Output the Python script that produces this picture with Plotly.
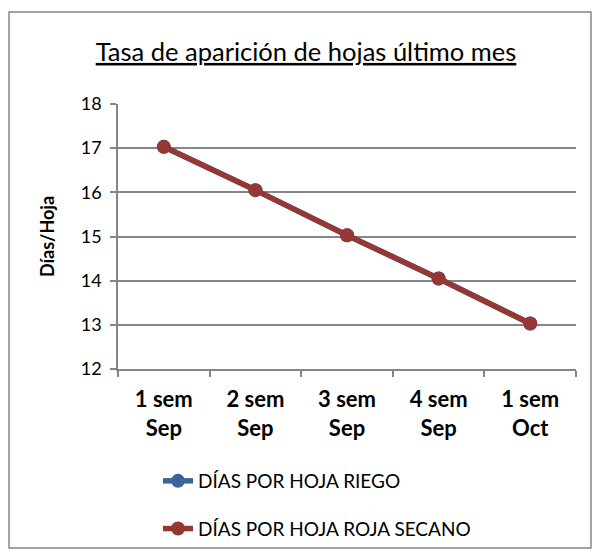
import plotly.graph_objects as go

categories = ["1 sem<br>Sep", "2 sem<br>Sep", "3 sem<br>Sep", "4 sem<br>Sep", "1 sem<br>Oct"]
riego = [17.03, 16.05, 15.03, 14.05, 13.03]
secano = [17.03, 16.05, 15.03, 14.05, 13.03]
series_names = ["DÍAS POR HOJA RIEGO", "DÍAS POR HOJA ROJA SECANO"]
y_ticks = [12, 13, 14, 15, 16, 17, 18]

FONT = "Lato, Calibri, sans-serif"
GRID = "#868686"

fig = go.Figure()
fig.add_trace(go.Scatter(x=categories, y=riego, mode="lines+markers", name=series_names[0],
                         legendgroup="a",
                         line=dict(color="#3A659C", width=5.5),
                         marker=dict(size=14, color="#3A659C")))
fig.add_trace(go.Scatter(x=categories, y=secano, mode="lines+markers", name=series_names[1],
                         legendgroup="b",
                         line=dict(color="#953735", width=5.5),
                         marker=dict(size=14, color="#953735")))

L, R, T, B = 118, 24, 104, 187
W, H = 600, 556
pw, ph = W - L - R, H - T - B

def px(x):
    return (x - L) / pw

def py(y):
    return (H - B - y) / ph

fig.update_layout(
    width=W, height=H,
    margin=dict(l=L, r=R, t=T, b=B, autoexpand=False),
    paper_bgcolor="white", plot_bgcolor="white",
    font=dict(family=FONT, color="black"),
    title=dict(text="<u>Tasa de aparición de hojas último mes</u>",
               x=0.51, xanchor="center", y=1 - 52 / H, yanchor="middle",
               font=dict(size=25.5, family=FONT)),
    showlegend=True,
    legend=dict(orientation="v", x=px(158), xanchor="left", y=py(462), yanchor="top",
                font=dict(size=19, family=FONT), tracegroupgap=20,
                bgcolor="rgba(0,0,0,0)"),
    xaxis=dict(type="category", showgrid=False, showline=True, linecolor=GRID, linewidth=1.5,
               ticks="outside", tickson="boundaries", ticklen=6, tickcolor=GRID, tickwidth=1.5,
               tickfont=dict(size=22, family=FONT, weight="bold"), ticklabelstandoff=10,
               automargin=False, range=[-0.5, 4.5]),
    yaxis=dict(range=[12, 18], tickvals=y_ticks, showgrid=True, gridcolor=GRID, gridwidth=1.5,
               showline=True, linecolor=GRID, linewidth=1.5,
               ticks="outside", ticklen=6, tickcolor=GRID, tickwidth=1.5,
               tickfont=dict(size=18, family=FONT), automargin=False, ticklabelstandoff=5,
               title=dict(text="<b>Días/Hoja</b>", font=dict(size=18, family=FONT), standoff=21),
               zeroline=False),
)

fig.add_shape(type="rect", xref="paper", yref="paper",
              x0=px(9), x1=px(591), y0=py(548), y1=py(12),
              line=dict(color="#868686", width=1.5), fillcolor="rgba(0,0,0,0)", layer="below")

fig.write_html("out.html", config={"displayModeBar": False},
               post_script="document.body.style.margin='0';document.body.style.padding='0';")
